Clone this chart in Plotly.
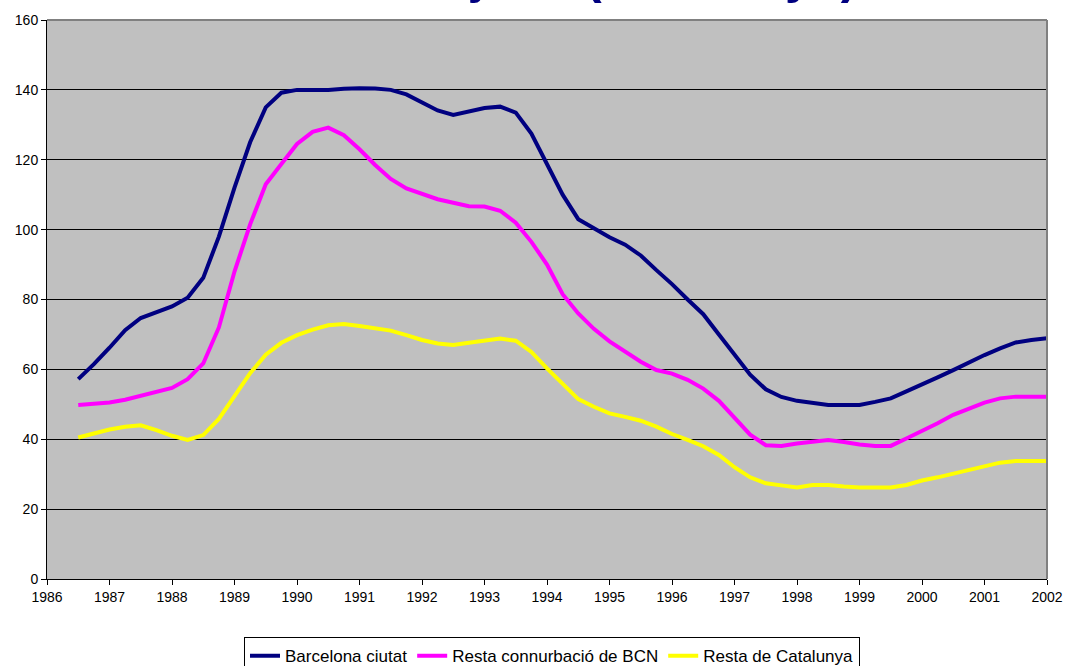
import plotly.graph_objects as go

# Quarterly time points (decimal years)
quarters = [1986.5 + 0.25 * i for i in range(63)]

barcelona_ciutat = [
    57.2, 61.5, 66.2, 71.2, 74.7, 76.5, 78.0, 80.5, 86.2, 98.0,
    112.0, 125.0, 135.0, 139.2, 140.0, 140.0, 140.0, 140.3, 140.5, 140.4,
    140.0, 138.7, 136.4, 134.1, 132.8, 133.7, 134.8, 135.2, 133.5, 127.5,
    119.0, 110.0, 103.0, 100.4, 97.8, 95.7, 92.6, 88.4, 84.4, 80.0,
    75.8, 70.0, 64.3, 58.5, 54.3, 52.1, 51.0, 50.4, 49.8, 49.8,
    49.8, 50.7, 51.7, 53.7, 55.6, 57.7, 59.8, 62.0, 64.1, 66.0,
    67.7, 68.4, 68.9,
]

resta_connurbacio = [
    49.8, 50.2, 50.5, 51.3, 52.5, 53.6, 54.7, 57.2, 61.7, 72.0,
    88.0, 101.5, 113.0, 118.8, 124.5, 128.0, 129.2, 127.0, 123.0, 118.5,
    114.5, 111.8, 110.1, 108.7, 107.7, 106.7, 106.6, 105.4, 102.0, 96.5,
    90.0, 81.5, 76.0, 71.6, 68.0, 65.0, 62.2, 59.8, 58.8, 57.0,
    54.5, 51.0, 46.0, 41.3, 38.3, 38.1, 38.8, 39.3, 39.8, 39.2,
    38.5, 38.1, 38.1, 40.2, 42.3, 44.6, 47.0, 48.8, 50.5, 51.7,
    52.2, 52.2, 52.2,
]

resta_catalunya = [
    40.5, 41.7, 42.8, 43.6, 44.0, 42.6, 41.0, 39.8, 41.2, 45.8,
    52.5, 58.9, 64.2, 67.6, 69.8, 71.4, 72.6, 73.0, 72.4, 71.8,
    71.1, 69.8, 68.4, 67.4, 67.0, 67.6, 68.2, 68.8, 68.2, 65.0,
    60.3, 55.8, 51.5, 49.3, 47.4, 46.4, 45.3, 43.6, 41.5, 39.8,
    38.0, 35.5, 32.0, 29.1, 27.4, 26.8, 26.2, 26.9, 26.9, 26.5,
    26.2, 26.2, 26.2, 26.9, 28.2, 29.1, 30.1, 31.1, 32.1, 33.3,
    33.8, 33.8, 33.8,
]

series_names = ["Barcelona ciutat", "Resta connurbació de BCN", "Resta de Catalunya"]
series_colors = ["#000080", "#FF00FF", "#FFFF00"]

year_ticks = list(range(1986, 2003))
year_labels = [str(y) for y in year_ticks]
y_ticks = list(range(0, 161, 20))

title_text = "Evolució de la mitjana (Catalunya)"

FONT = "Arial, 'Liberation Sans', sans-serif"

fig = go.Figure()
for name, vals, col in zip(series_names, [barcelona_ciutat, resta_connurbacio, resta_catalunya], series_colors):
    fig.add_trace(go.Scatter(
        x=quarters, y=vals, mode="lines", name=name,
        line=dict(color=col, width=4, shape="linear"),
    ))

fig.update_layout(
    width=1065, height=666,
    margin=dict(l=47, r=18, t=20, b=87, autoexpand=False),
    paper_bgcolor="white",
    plot_bgcolor="#C0C0C0",
    font=dict(family=FONT, size=14, color="black"),
    showlegend=True,
    legend=dict(
        orientation="h", x=0.505, xanchor="center", y=-0.104, yanchor="top",
        bgcolor="white", bordercolor="black", borderwidth=1,
        font=dict(family=FONT, size=17, color="black"),
        tracegroupgap=0,
    ),
    annotations=[dict(
        text=title_text, xref="paper", yref="paper",
        x=0.812, xanchor="right", y=1.0245, yanchor="bottom",
        showarrow=False,
        font=dict(family=FONT, size=50, color="#000080", weight="bold"),
    )],
)

fig.update_xaxes(
    range=[1986, 2002],
    tickmode="array", tickvals=year_ticks, ticktext=year_labels,
    ticks="outside", ticklen=5, tickcolor="black", tickwidth=1,
    showline=True, linecolor="black", linewidth=1,
    showgrid=False, zeroline=False, mirror=False,
    ticklabeloverflow="allow",
    tickfont=dict(family=FONT, size=14, color="black"),
)
fig.update_yaxes(
    range=[0, 160],
    tickmode="array", tickvals=y_ticks,
    ticks="outside", ticklen=5, tickcolor="black", tickwidth=1,
    showline=True, linecolor="black", linewidth=1,
    showgrid=True, gridcolor="black", gridwidth=1,
    zeroline=False,
    tickfont=dict(family=FONT, size=14, color="black"),
)

# Grey plot-area border on top and right
fig.add_shape(type="line", xref="paper", yref="paper", x0=0, x1=1, y0=1, y1=1,
              line=dict(color="#808080", width=2), layer="above")
fig.add_shape(type="line", xref="paper", yref="paper", x0=1, x1=1, y0=0, y1=1,
              line=dict(color="#808080", width=2), layer="above")

fig.write_html(
    "out.html",
    config={"displayModeBar": False},
    post_script="document.body.style.margin='0';document.body.style.overflow='hidden';",
)
